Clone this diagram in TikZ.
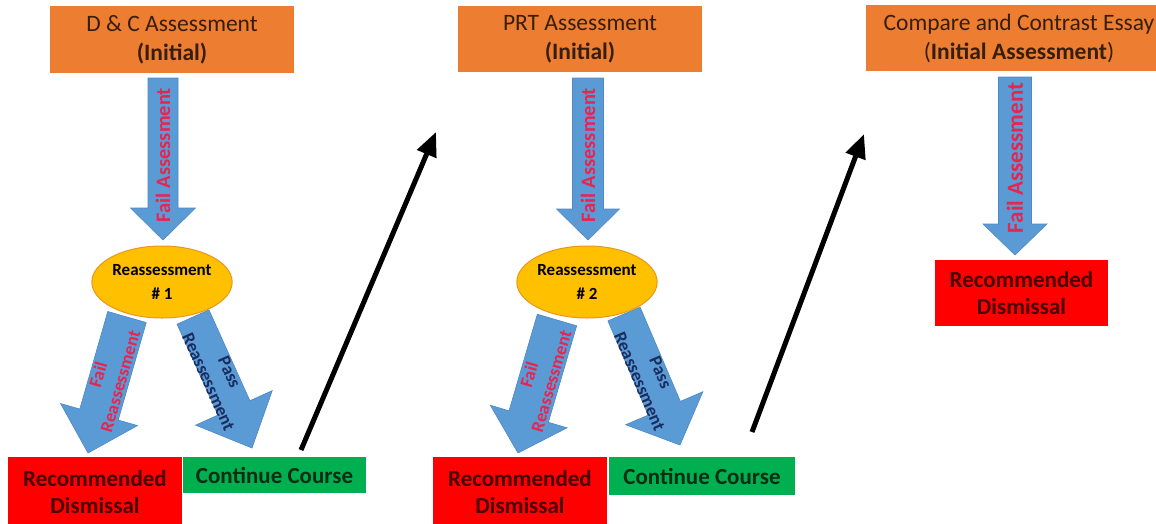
\documentclass[tikz,border=0pt]{standalone}
\usepackage{fontspec}
\setmainfont{Carlito}
\usetikzlibrary{calc,arrows.meta,shapes.geometric}
\definecolor{boxorange}{RGB}{237,125,49}
\definecolor{arrowblue}{RGB}{91,155,213}
\definecolor{arrowedge}{RGB}{80,135,195}
\definecolor{goldfill}{RGB}{255,192,0}
\definecolor{goldedge}{RGB}{232,150,30}
\definecolor{dismissred}{RGB}{255,0,0}
\definecolor{passgreen}{RGB}{0,176,80}
\definecolor{failtext}{RGB}{232,36,80}
\definecolor{passtext}{RGB}{25,45,95}
\definecolor{browntext}{RGB}{55,30,10}
\definecolor{maroontext}{RGB}{70,0,0}
\definecolor{greentext}{RGB}{10,45,20}
% #1 start, #2 tip, #3 shaft half width, #4 head half width, #5 head length
\newcommand\blockarrow[5]{%
  \coordinate (#1h) at ($(#2)!#5!(#1)$);
  \filldraw[fill=arrowblue, draw=arrowedge, line width=0.6pt, line join=miter]
    ($(#1)!#3!90:(#2)$) -- ($(#1h)!#3!90:(#2)$) -- ($(#1h)!#4!90:(#2)$) -- (#2)
    -- ($(#1h)!#4!-90:(#2)$) -- ($(#1h)!#3!-90:(#2)$) -- ($(#1)!#3!-90:(#2)$) -- cycle;
}
\tikzset{
  titlebox/.style={rectangle, fill=boxorange, inner sep=0pt, align=center, text=browntext,
    font=\fontsize{23.5}{29}\selectfont},
  reassess/.style={ellipse, fill=goldfill, draw=goldedge, line width=1pt, inner sep=0pt,
    minimum width=134pt, minimum height=72pt, align=center,
    font=\fontsize{17}{24}\selectfont\bfseries},
  dismissbox/.style={rectangle, fill=dismissred, inner sep=0pt, align=center, text=maroontext,
    font=\fontsize{23}{27}\selectfont\bfseries},
  continuebox/.style={rectangle, fill=passgreen, inner sep=0pt, align=center, text=greentext,
    font=\fontsize{23}{27}\selectfont\bfseries},
  faillabel/.style={text=failtext, align=center, inner sep=0pt,
    font=\fontsize{18}{23}\selectfont\bfseries},
  passlabel/.style={text=passtext, align=center, inner sep=0pt,
    font=\fontsize{18}{23}\selectfont\bfseries},
  jumparrow/.style={line width=5pt, -{Triangle[length=24pt,width=20pt]}}
}
\begin{document}
\begin{tikzpicture}[x=1pt,y=-1pt]
\useasboundingbox[fill=white] (0,0) rectangle (1156,523);
\clip (0,0) rectangle (1156,523);

% ---------- column 1 ----------
\coordinate (d1s) at (163,78);  \coordinate (d1e) at (163,240);
\coordinate (f1s) at (127,317); \coordinate (f1e) at (88,453);
\coordinate (p1s) at (193,317); \coordinate (p1e) at (252,448);
\blockarrow{d1s}{d1e}{15pt}{32.5pt}{32pt}
\blockarrow{f1s}{f1e}{20pt}{40pt}{40pt}
\blockarrow{p1s}{p1e}{17.5pt}{42pt}{44pt}
\node[faillabel, rotate=90, font=\fontsize{20.5}{24}\selectfont\bfseries] (d1l) at (163,155) {Fail Assessment};
\node[faillabel, rotate=74] (f1l) at (109,378) {Fail\\Reassessment};
\node[passlabel, rotate=-65.8] (p1l) at (219,377) {Pass\\Reassessment};

\node[titlebox, minimum width=244pt, minimum height=67pt] (t1) at (172,39.5)
  {D \& C Assessment\\\textbf{(Initial)}};
\node[reassess] (e1) at (162,282) {Reassessment\\\# 1};
\node[dismissbox, minimum width=174pt, minimum height=70pt] (r1) at (95,492)
  {Recommended\\Dismissal};
\node[continuebox, minimum width=183pt, minimum height=36pt] (c1) at (274.5,475)
  {Continue Course};

% ---------- column 2 ----------
\coordinate (d2s) at (588,78);  \coordinate (d2e) at (588,240);
\coordinate (f2s) at (557,320); \coordinate (f2e) at (518,453);
\coordinate (p2s) at (624,314); \coordinate (p2e) at (680,445);
\blockarrow{d2s}{d2e}{15.5pt}{31.5pt}{31pt}
\blockarrow{f2s}{f2e}{20.5pt}{40pt}{38pt}
\blockarrow{p2s}{p2e}{17.5pt}{42pt}{40pt}
\node[faillabel, rotate=90, font=\fontsize{20.5}{24}\selectfont\bfseries] (d2l) at (588,155) {Fail Assessment};
\node[faillabel, rotate=73.7] (f2l) at (540,378) {Fail\\Reassessment};
\node[passlabel, rotate=-66.9] (p2l) at (650,377) {Pass\\Reassessment};

\node[titlebox, minimum width=244pt, minimum height=66pt] (t2) at (580,39)
  {PRT Assessment\\\textbf{(Initial)}};
\node[reassess] (e2) at (587,282) {Reassessment\\\# 2};
\node[dismissbox, minimum width=174pt, minimum height=70pt] (r2) at (520,492)
  {Recommended\\Dismissal};
\node[continuebox, minimum width=186pt, minimum height=38pt] (c2) at (702,476)
  {Continue Course};

% ---------- column 3 ----------
\coordinate (d3s) at (1015,77); \coordinate (d3e) at (1015,255);
\blockarrow{d3s}{d3e}{16.5pt}{32pt}{31pt}
\node[faillabel, rotate=90, font=\fontsize{23}{26}\selectfont\bfseries] (d3l) at (1015,158) {Fail Assessment};
\node[titlebox, minimum width=306pt, minimum height=66pt] (t3) at (1019,38)
  {Compare and Contrast Essay\\(\textbf{Initial Assessment})};
\node[dismissbox, minimum width=173pt, minimum height=66pt] (r3) at (1021.5,293)
  {Recommended\\Dismissal};

% ---------- jump arrows ----------
\coordinate (j1s) at (301,450); \coordinate (j1e) at (436,132);
\coordinate (j2s) at (752,432); \coordinate (j2e) at (864,134);
\draw[jumparrow] (j1s) -- (j1e);
\draw[jumparrow] (j2s) -- (j2e);
\end{tikzpicture}
\end{document}
